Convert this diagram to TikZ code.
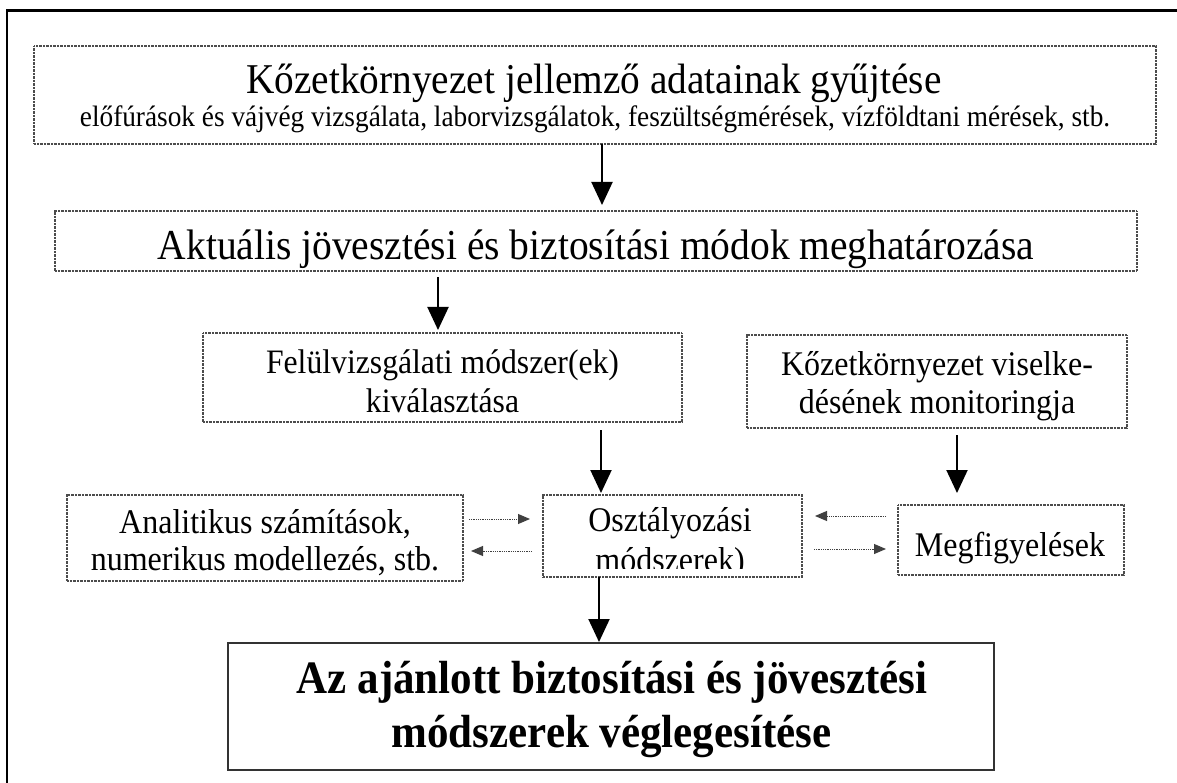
\documentclass[tikz,border=0pt]{standalone}
\usepackage{fontspec}
\usepackage{graphicx}
\setmainfont{Liberation Serif}
\usetikzlibrary{arrows.meta,calc}
\newcommand{\vst}[1]{\scalebox{1}[1.08]{#1}}
\newcommand{\fs}[1]{\fontsize{#1}{#1}\selectfont}
\begin{document}
\begin{tikzpicture}[x=1pt,y=-1pt,
  dbox/.style={draw=black!70, line width=1.3pt, dash pattern=on 0.9pt off 0.5pt, inner sep=0pt, outer sep=0pt},
  fbox/.style={draw=black!80, line width=2pt, inner sep=0pt, outer sep=0pt},
  txt/.style={anchor=base, inner sep=0pt, outer sep=0pt, text=black},
  bigarr/.style={line width=2pt, -{Triangle[width=21pt,length=23pt]}},
  dotarr/.style={line width=1pt, black!75, dash pattern=on 1pt off 0.8pt, -{Triangle[width=10pt,length=12pt]}}
]
\useasboundingbox (0,0) rectangle (1177,783);
\fill[white] (0,0) rectangle (1177,783);
% outer frame
\draw[line width=2.5pt] (7,783) -- (7,10.5) -- (1177,10.5);

% boxes
\node[dbox, minimum width=1122pt, minimum height=98pt] (b1) at (595,95) {};
\node[dbox, minimum width=1082pt, minimum height=60pt] (b2) at (596,241) {};
\node[dbox, minimum width=479pt, minimum height=89pt] (b3) at (442.5,377.5) {};
\node[dbox, minimum width=380pt, minimum height=93pt] (b4) at (937,381.5) {};
\node[dbox, minimum width=259pt, minimum height=82pt] (b5) at (672.5,536) {};
\node[dbox, minimum width=396pt, minimum height=86pt] (b6) at (265,538) {};
\node[dbox, minimum width=226pt, minimum height=70pt] (b7) at (1011,540) {};
\node[fbox, minimum width=766pt, minimum height=127pt] (b8) at (611,706.5) {};

% texts
\node[txt] (t1a) at (594,94) {\fs{39.3}\vst{Kőzetkörnyezet jellemző adatainak gyűjtése}};
\node[txt] (t1b) at (595,127) {\fs{27.3}\vst{előfúrások és vájvég vizsgálata, laborvizsgálatok, feszültségmérések, vízföldtani mérések, stb.}};
\node[txt] (t2) at (596,260) {\fs{39.5}\vst{Aktuális jövesztési és biztosítási módok meghatározása}};
\node[txt] (t3a) at (442.5,373) {\fs{31.7}\vst{Felülvizsgálati módszer(ek)}};
\node[txt] (t3b) at (442.5,412) {\fs{31.7}\vst{kiválasztása}};
\node[txt] (t4a) at (937,375) {\fs{32}\vst{Kőzetkörnyezet viselke-}};
\node[txt] (t4b) at (937,413) {\fs{32}\vst{désének monitoringja}};
\node[txt] (t5a) at (670,531) {\fs{32}\vst{Osztályozási}};
\begin{scope}
\clip (b5.north west) rectangle ($(b5.south east)+(0,-9)$);
\node[txt] (t5b) at (670,571) {\fs{32}\vst{módszerek)}};
\end{scope}
\node[txt] (t6a) at (265,533) {\fs{32}\vst{Analitikus számítások,}};
\node[txt] (t6b) at (265,570) {\fs{32}\vst{numerikus modellezés, stb.}};
\node[txt] (t7) at (1010,556) {\fs{32}\vst{Megfigyelések}};
\node[txt] (t8a) at (612,693) {\fs{43}\bfseries\vst{Az ajánlott biztosítási és jövesztési}};
\node[txt] (t8b) at (611.5,747) {\fs{43}\bfseries\vst{módszerek véglegesítése}};

% arrow positions
\coordinate (xa1) at (602,0);
\coordinate (xa2) at (438,0);
\coordinate (xa3) at (601,0);
\coordinate (xa4) at (957,0);
\coordinate (xa5) at (599,0);
\draw[bigarr, shorten >=6pt] (b1.south -| xa1) -- (b2.north -| xa1);
\draw[bigarr, shorten <=6pt, shorten >=3pt] (b2.south -| xa2) -- (b3.north -| xa2);
\draw[bigarr, shorten <=8pt, shorten >=2pt] (b3.south -| xa3) -- (b5.north -| xa3);
\draw[bigarr, shorten <=7pt, shorten >=12pt] (b4.south -| xa4) -- (b7.north -| xa4);
\draw[bigarr, shorten >=1pt] (b5.south -| xa5) -- (b8.north -| xa5);

% dotted arrows
\coordinate (yd1) at (0,519);
\coordinate (yd2) at (0,551);
\coordinate (yd3) at (0,516);
\coordinate (yd4) at (0,549);
\draw[dotarr, shorten <=6pt, shorten >=13pt] (b6.east |- yd1) -- (b5.west |- yd1);
\draw[dotarr, shorten <=11pt, shorten >=8pt] (b5.west |- yd2) -- (b6.east |- yd2);
\draw[dotarr, shorten <=12pt, shorten >=13pt] (b7.west |- yd3) -- (b5.east |- yd3);
\draw[dotarr, shorten <=12pt, shorten >=12pt] (b5.east |- yd4) -- (b7.west |- yd4);
\end{tikzpicture}
\end{document}
